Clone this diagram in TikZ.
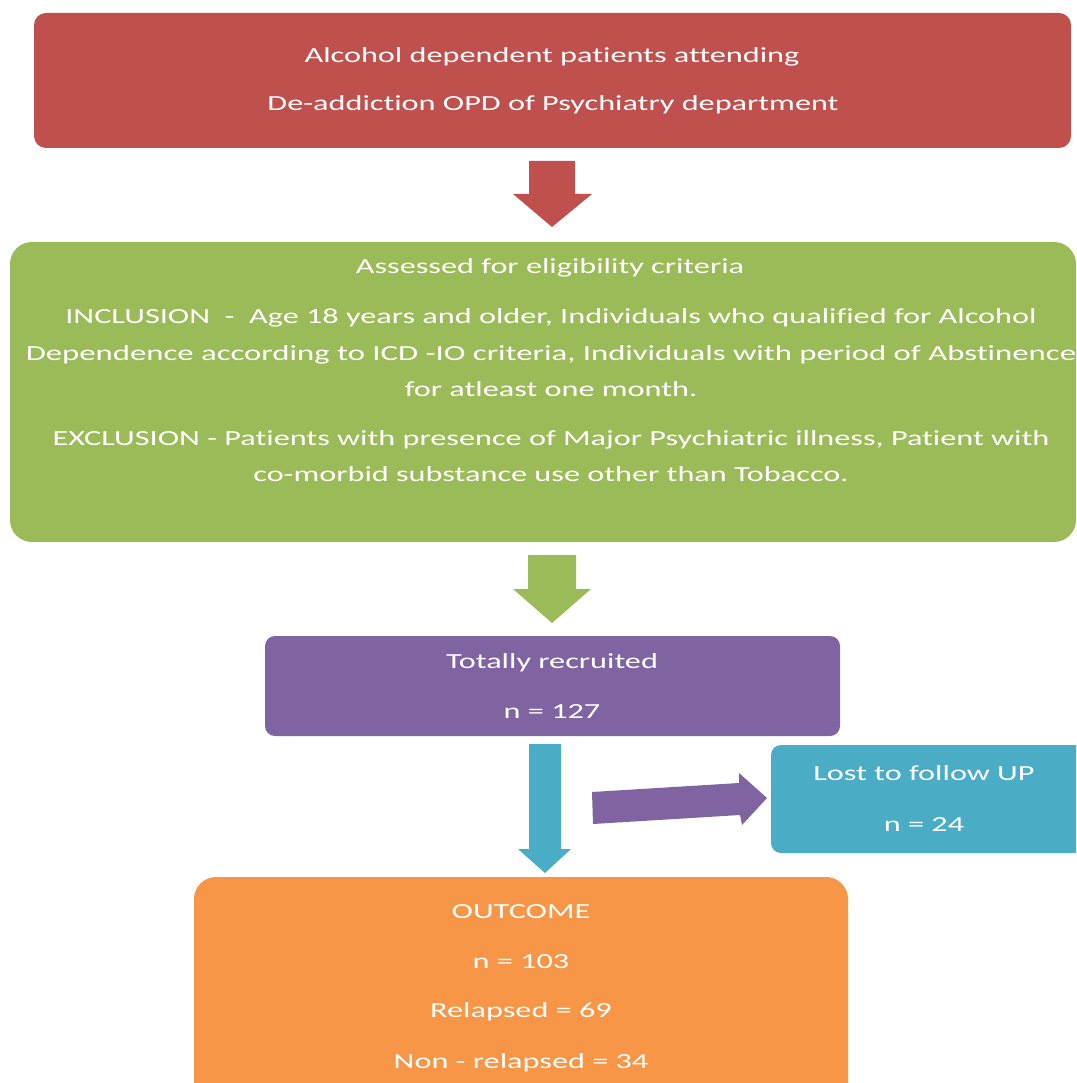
\documentclass[tikz,border=0pt]{standalone}
\usepackage{fontspec}
\setmainfont{Carlito}
\newfontfamily\widefont[FakeStretch=1.5,Ligatures=NoCommon]{Carlito}
\definecolor{cred}{HTML}{C0504D}
\definecolor{cgreen}{HTML}{9BBB59}
\definecolor{cpurple}{HTML}{8064A2}
\definecolor{cteal}{HTML}{4BACC6}
\definecolor{corange}{HTML}{F79646}
\tikzset{
  txt/.style={anchor=base, text=white, font=\widefont\fontsize{21.5}{24}\selectfont, inner sep=0pt}
}
\begin{document}
\begin{tikzpicture}[x=1pt,y=-1pt]
\useasboundingbox (0,0) rectangle (1076,1083);
\clip (0,0) rectangle (1076,1083);
% boxes
\fill[cred, rounded corners=12] (34,13) rectangle (1071,148);
\coordinate (redbox) at (552,80);
\fill[cgreen, rounded corners=22] (10,242) rectangle (1076,542);
\coordinate (greenbox) at (543,392);
\fill[cpurple, rounded corners=10] (265,636) rectangle (840,736);
\coordinate (purplebox) at (552,686);
\fill[cteal, rounded corners=10] (771,745) rectangle (1090,853);
\coordinate (tealbox) at (923,799);
\fill[corange, rounded corners=22] (194,877) rectangle (848,1110);
\coordinate (orangebox) at (521,980);
% texts
\node[txt] (t1) at (552,63) {Alcohol dependent patients attending};
\node[txt] (t2) at (553,111) {De-addiction OPD of Psychiatry department};
\node[txt] (g1) at (550,273) {Assessed for eligibility criteria};
\node[txt] (g2) at (551,323) {INCLUSION \ - \ Age 18 years and older, Individuals who qualified for Alcohol};
\node[txt] (g3) at (551,360) {\scalebox{1.015}[1]{Dependence according to ICD -IO criteria, Individuals with period of Abstinence}};
\node[txt] (g4) at (551,396) {for atleast one month.};
\node[txt] (g5) at (551,445) {EXCLUSION - Patients with presence of Major Psychiatric illness, Patient with};
\node[txt] (g6) at (551,481) {co-morbid substance use other than Tobacco.};
\node[txt] (p1) at (552,668) {Totally recruited};
\node[txt] (p2) at (552,718) {n = 127};
\node[txt] (l1) at (924,780) {Lost to follow UP};
\node[txt] (l2) at (924,831) {n = 24};
\node[txt] (o1) at (521,918) {OUTCOME};
\node[txt] (o2) at (521,968) {n = 103};
\node[txt] (o3) at (521,1017) {Relapsed = 69};
\node[txt] (o4) at (521,1068) {Non - relapsed = 34};
% block arrows
\fill[cred] (529,161) -- (575,161) -- (575,194) -- (592,194) -- (552,227) -- (513,194) -- (529,194) -- cycle;
\fill[cgreen] (528,555) -- (576,555) -- (576,589) -- (591,589) -- (552,623) -- (513,589) -- (528,589) -- cycle;
\fill[cteal] (529,744) -- (561,744) -- (561,849) -- (571,849) -- (545,873) -- (518,849) -- (529,849) -- cycle;
\fill[cpurple] (592,792) -- (739,783) -- (739,773) -- (767,798) -- (742,825) -- (740,815) -- (593,824) -- cycle;
\end{tikzpicture}
\end{document}
